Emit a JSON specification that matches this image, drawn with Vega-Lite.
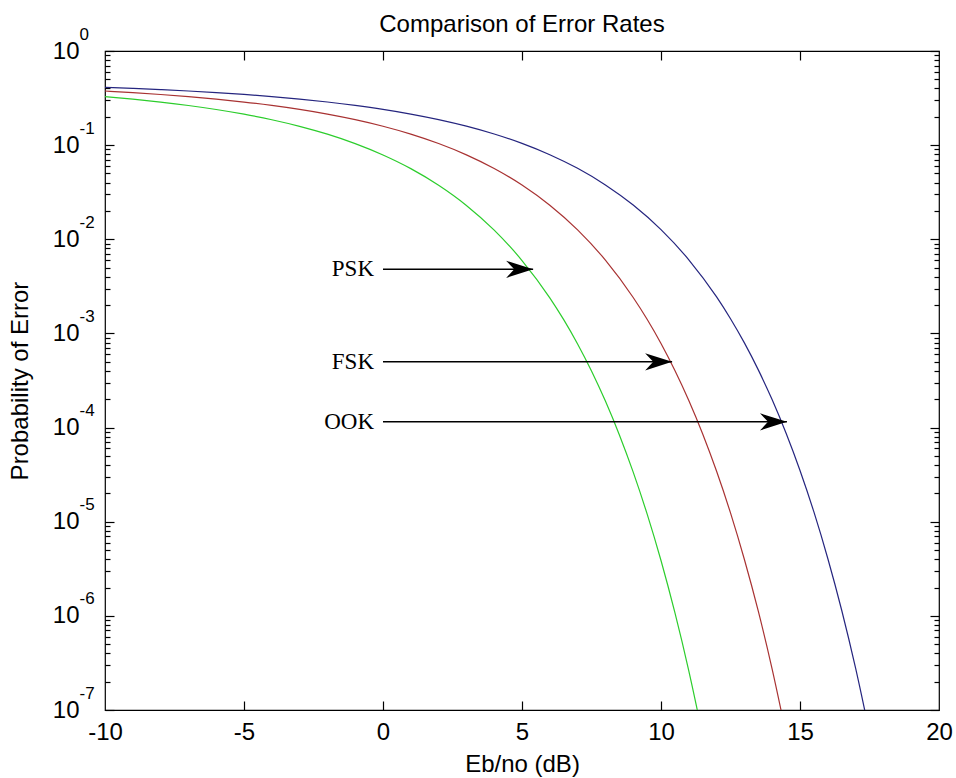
{
  "$schema": "https://vega.github.io/schema/vega-lite/v6.json",
  "width": 834,
  "height": 659,
  "autosize": {"type": "none"},
  "padding": {"left": 105, "top": 51, "right": 17, "bottom": 68},
  "background": "white",
  "title": {"text": "Comparison of Error Rates", "fontSize": 24, "font": "Liberation Sans", "fontWeight": "normal", "color": "#000", "offset": 14, "dy": 26, "anchor": "middle"},
  "config": {
    "view": {"stroke": "#000", "strokeWidth": 1.2},
    "axis": {"labelFont": "Liberation Sans", "titleFont": "Liberation Sans", "labelColor": "#000", "titleColor": "#000", "titleFontWeight": "normal", "grid": false, "domain": false, "tickColor": "#000", "tickWidth": 1.2, "labelOverlap": false, "labelFlush": false}
  },
  "datasets": {
    "curves": [
      {"snr": -10, "pe": 0.3274, "mod": "PSK"}, {"snr": -9, "pe": 0.3079, "mod": "PSK"}, {"snr": -8, "pe": 0.2867, "mod": "PSK"}, {"snr": -7, "pe": 0.2638, "mod": "PSK"}, {"snr": -6, "pe": 0.2392, "mod": "PSK"}, {"snr": -5, "pe": 0.2132, "mod": "PSK"}, {"snr": -4, "pe": 0.1861, "mod": "PSK"}, {"snr": -3, "pe": 0.1584, "mod": "PSK"}, {"snr": -2, "pe": 0.1307, "mod": "PSK"}, {"snr": -1, "pe": 0.1038, "mod": "PSK"}, {"snr": 0, "pe": 0.0786, "mod": "PSK"}, {"snr": 1, "pe": 0.0563, "mod": "PSK"}, {"snr": 2, "pe": 0.0375, "mod": "PSK"}, {"snr": 3, "pe": 0.0229, "mod": "PSK"}, {"snr": 4, "pe": 0.0125, "mod": "PSK"}, {"snr": 5, "pe": 0.00595, "mod": "PSK"}, {"snr": 6, "pe": 0.00239, "mod": "PSK"}, {"snr": 6.5, "pe": 0.0014, "mod": "PSK"}, {"snr": 7, "pe": 0.000773, "mod": "PSK"}, {"snr": 7.5, "pe": 0.000399, "mod": "PSK"}, {"snr": 8, "pe": 0.000191, "mod": "PSK"}, {"snr": 8.5, "pe": 8.4e-5, "mod": "PSK"}, {"snr": 9, "pe": 3.36e-5, "mod": "PSK"}, {"snr": 9.5, "pe": 1.21e-5, "mod": "PSK"}, {"snr": 10, "pe": 3.87e-6, "mod": "PSK"}, {"snr": 10.5, "pe": 1.08e-6, "mod": "PSK"}, {"snr": 11, "pe": 2.61e-7, "mod": "PSK"}, {"snr": 11.5, "pe": 5.33e-8, "mod": "PSK"},
      {"snr": -10, "pe": 0.3759, "mod": "FSK"}, {"snr": -9, "pe": 0.3614, "mod": "FSK"}, {"snr": -8, "pe": 0.3453, "mod": "FSK"}, {"snr": -7, "pe": 0.3276, "mod": "FSK"}, {"snr": -6, "pe": 0.3081, "mod": "FSK"}, {"snr": -5, "pe": 0.2869, "mod": "FSK"}, {"snr": -4, "pe": 0.264, "mod": "FSK"}, {"snr": -3, "pe": 0.2395, "mod": "FSK"}, {"snr": -2, "pe": 0.2135, "mod": "FSK"}, {"snr": -1, "pe": 0.1864, "mod": "FSK"}, {"snr": 0, "pe": 0.1587, "mod": "FSK"}, {"snr": 1, "pe": 0.1309, "mod": "FSK"}, {"snr": 2, "pe": 0.104, "mod": "FSK"}, {"snr": 3, "pe": 0.0789, "mod": "FSK"}, {"snr": 4, "pe": 0.0565, "mod": "FSK"}, {"snr": 5, "pe": 0.0377, "mod": "FSK"}, {"snr": 6, "pe": 0.023, "mod": "FSK"}, {"snr": 7, "pe": 0.01259, "mod": "FSK"}, {"snr": 8, "pe": 0.00601, "mod": "FSK"}, {"snr": 9, "pe": 0.00241, "mod": "FSK"}, {"snr": 9.5, "pe": 0.001416, "mod": "FSK"}, {"snr": 10, "pe": 0.000783, "mod": "FSK"}, {"snr": 10.5, "pe": 0.000404, "mod": "FSK"}, {"snr": 11, "pe": 0.000194, "mod": "FSK"}, {"snr": 11.5, "pe": 8.56e-5, "mod": "FSK"}, {"snr": 12, "pe": 3.43e-5, "mod": "FSK"}, {"snr": 12.5, "pe": 1.24e-5, "mod": "FSK"}, {"snr": 13, "pe": 3.97e-6, "mod": "FSK"}, {"snr": 13.5, "pe": 1.12e-6, "mod": "FSK"}, {"snr": 14, "pe": 2.7e-7, "mod": "FSK"}, {"snr": 14.5, "pe": 5.52e-8, "mod": "FSK"},
      {"snr": -10, "pe": 0.4115, "mod": "OOK"}, {"snr": -9, "pe": 0.4009, "mod": "OOK"}, {"snr": -8, "pe": 0.3891, "mod": "OOK"}, {"snr": -7, "pe": 0.3761, "mod": "OOK"}, {"snr": -6, "pe": 0.3615, "mod": "OOK"}, {"snr": -5, "pe": 0.3455, "mod": "OOK"}, {"snr": -4, "pe": 0.3278, "mod": "OOK"}, {"snr": -3, "pe": 0.3083, "mod": "OOK"}, {"snr": -2, "pe": 0.2871, "mod": "OOK"}, {"snr": -1, "pe": 0.2642, "mod": "OOK"}, {"snr": 0, "pe": 0.2398, "mod": "OOK"}, {"snr": 1, "pe": 0.2138, "mod": "OOK"}, {"snr": 2, "pe": 0.1867, "mod": "OOK"}, {"snr": 3, "pe": 0.159, "mod": "OOK"}, {"snr": 4, "pe": 0.1312, "mod": "OOK"}, {"snr": 5, "pe": 0.1043, "mod": "OOK"}, {"snr": 6, "pe": 0.0791, "mod": "OOK"}, {"snr": 7, "pe": 0.0567, "mod": "OOK"}, {"snr": 8, "pe": 0.0378, "mod": "OOK"}, {"snr": 9, "pe": 0.0231, "mod": "OOK"}, {"snr": 10, "pe": 0.01267, "mod": "OOK"}, {"snr": 11, "pe": 0.00606, "mod": "OOK"}, {"snr": 12, "pe": 0.00244, "mod": "OOK"}, {"snr": 12.5, "pe": 0.001432, "mod": "OOK"}, {"snr": 13, "pe": 0.000793, "mod": "OOK"}, {"snr": 13.5, "pe": 0.00041, "mod": "OOK"}, {"snr": 14, "pe": 0.000197, "mod": "OOK"}, {"snr": 14.5, "pe": 8.7e-5, "mod": "OOK"}, {"snr": 15, "pe": 3.5e-5, "mod": "OOK"}, {"snr": 15.5, "pe": 1.27e-5, "mod": "OOK"}, {"snr": 16, "pe": 4.07e-6, "mod": "OOK"}, {"snr": 16.5, "pe": 1.147e-6, "mod": "OOK"}, {"snr": 17, "pe": 2.78e-7, "mod": "OOK"}, {"snr": 17.5, "pe": 5.71e-8, "mod": "OOK"}
    ],
    "arrows": [
      {"mod": "PSK", "x0": 0, "x1": 5.4, "pe": 0.0048},
      {"mod": "FSK", "x0": 0, "x1": 10.4, "pe": 0.0005},
      {"mod": "OOK", "x0": 0, "x1": 14.53, "pe": 0.000115}
    ]
  },
  "resolve": {"scale": {"x": "shared", "y": "shared", "color": "shared"}, "axis": {"x": "independent", "y": "independent"}},
  "layer": [
    {
      "data": {"name": "curves"},
      "transform": [{"filter": "datum.mod === 'PSK'"}],
      "mark": {"type": "line", "interpolate": "monotone", "clip": true, "strokeWidth": 1.2},
      "encoding": {
        "x": {"field": "snr", "type": "quantitative", "scale": {"domain": [-10, 20], "nice": false, "zero": false},
          "axis": {"orient": "bottom", "values": [-10, -5, 0, 5, 10, 15, 20], "ticks": false, "tickSize": 0, "labelPadding": 10, "labelFontSize": 24, "labelExpr": "'' + datum.value", "title": "Eb/no (dB)", "titleFontSize": 24, "titlePadding": 8}},
        "y": {"field": "pe", "type": "quantitative", "scale": {"type": "log", "domain": [1e-7, 1], "nice": false},
          "axis": {"orient": "left", "values": [1e-7, 1e-6, 1e-5, 0.0001, 0.001, 0.01, 0.1, 1], "ticks": false, "tickSize": 0, "labelPadding": 26, "labelFontSize": 24, "labelBaseline": "middle", "labelExpr": "'10'", "title": "Probability of Error", "titleFontSize": 24, "titlePadding": 20}},
        "color": {"field": "mod", "type": "nominal", "scale": {"domain": ["PSK", "FSK", "OOK"], "range": ["#2ccd2c", "#a83232", "#25257f"]}, "legend": null}
      }
    },
    {
      "data": {"name": "curves"},
      "transform": [{"filter": "datum.mod === 'FSK'"}],
      "mark": {"type": "line", "interpolate": "monotone", "clip": true, "strokeWidth": 1.2},
      "encoding": {
        "x": {"field": "snr", "type": "quantitative", "scale": {"domain": [-10, 20], "nice": false, "zero": false},
          "axis": {"orient": "bottom", "values": [-5, 0, 5, 10, 15], "labels": false, "tickSize": -9, "title": null}},
        "y": {"field": "pe", "type": "quantitative", "scale": {"type": "log", "domain": [1e-7, 1], "nice": false},
          "axis": {"orient": "left", "values": [1e-7, 1e-6, 1e-5, 0.0001, 0.001, 0.01, 0.1, 1], "ticks": false, "tickSize": 0, "labelPadding": 26, "labelAlign": "left", "labelBaseline": "middle", "labelOffset": -17, "labelFontSize": 17, "labelExpr": "'' + round(log(datum.value) / LN10)", "title": null}},
        "color": {"field": "mod", "type": "nominal", "legend": null}
      }
    },
    {
      "data": {"name": "curves"},
      "transform": [{"filter": "datum.mod === 'OOK'"}],
      "mark": {"type": "line", "interpolate": "monotone", "clip": true, "strokeWidth": 1.2},
      "encoding": {
        "x": {"field": "snr", "type": "quantitative", "scale": {"domain": [-10, 20], "nice": false, "zero": false},
          "axis": {"orient": "top", "values": [-5, 0, 5, 10, 15], "labels": false, "tickSize": -9, "title": null}},
        "y": {"field": "pe", "type": "quantitative", "scale": {"type": "log", "domain": [1e-7, 1], "nice": false},
          "axis": {"orient": "left", "values": [1e-7, 1e-6, 1e-5, 0.0001, 0.001, 0.01, 0.1, 1], "labels": false, "tickSize": -9, "title": null}},
        "color": {"field": "mod", "type": "nominal", "legend": null}
      }
    },
    {
      "data": {"name": "arrows"},
      "mark": {"type": "rule", "color": "#000", "strokeWidth": 1.5},
      "encoding": {
        "x": {"field": "x0", "type": "quantitative", "axis": null},
        "x2": {"field": "x1"},
        "y": {"field": "pe", "type": "quantitative",
          "axis": {"orient": "left", "values": [2e-7, 3e-7, 4e-7, 5e-7, 6e-7, 7e-7, 8e-7, 9e-7, 2e-6, 3e-6, 4e-6, 5e-6, 6e-6, 7e-6, 8e-6, 9e-6, 2e-5, 3e-5, 4e-5, 5e-5, 6e-5, 7e-5, 8e-5, 9e-5, 0.0002, 0.0003, 0.0004, 0.0005, 0.0006, 0.0007, 0.0008, 0.0009, 0.002, 0.003, 0.004, 0.005, 0.006, 0.007, 0.008, 0.009, 0.02, 0.03, 0.04, 0.05, 0.06, 0.07, 0.08, 0.09, 0.2, 0.3, 0.4, 0.5, 0.6, 0.7, 0.8, 0.9], "labels": false, "tickSize": -5, "title": null}}
      }
    },
    {
      "data": {"name": "arrows"},
      "mark": {"type": "point", "shape": "M0,0 L-2,-0.64 L-1.4,0 L-2,0.64 Z", "filled": true, "color": "#000", "opacity": 1, "size": 729, "strokeWidth": 0},
      "encoding": {
        "x": {"field": "x1", "type": "quantitative", "axis": null},
        "y": {"field": "pe", "type": "quantitative",
          "axis": {"orient": "right", "values": [1e-7, 1e-6, 1e-5, 0.0001, 0.001, 0.01, 0.1, 1], "labels": false, "tickSize": -9, "title": null}}
      }
    },
    {
      "data": {"name": "arrows"},
      "mark": {"type": "text", "align": "right", "baseline": "middle", "dx": -9, "font": "Liberation Serif", "fontSize": 23, "color": "#000"},
      "encoding": {
        "x": {"field": "x0", "type": "quantitative", "axis": null},
        "y": {"field": "pe", "type": "quantitative",
          "axis": {"orient": "right", "values": [2e-7, 3e-7, 4e-7, 5e-7, 6e-7, 7e-7, 8e-7, 9e-7, 2e-6, 3e-6, 4e-6, 5e-6, 6e-6, 7e-6, 8e-6, 9e-6, 2e-5, 3e-5, 4e-5, 5e-5, 6e-5, 7e-5, 8e-5, 9e-5, 0.0002, 0.0003, 0.0004, 0.0005, 0.0006, 0.0007, 0.0008, 0.0009, 0.002, 0.003, 0.004, 0.005, 0.006, 0.007, 0.008, 0.009, 0.02, 0.03, 0.04, 0.05, 0.06, 0.07, 0.08, 0.09, 0.2, 0.3, 0.4, 0.5, 0.6, 0.7, 0.8, 0.9], "labels": false, "tickSize": -5, "title": null}},
        "text": {"field": "mod"}
      }
    }
  ]
}
